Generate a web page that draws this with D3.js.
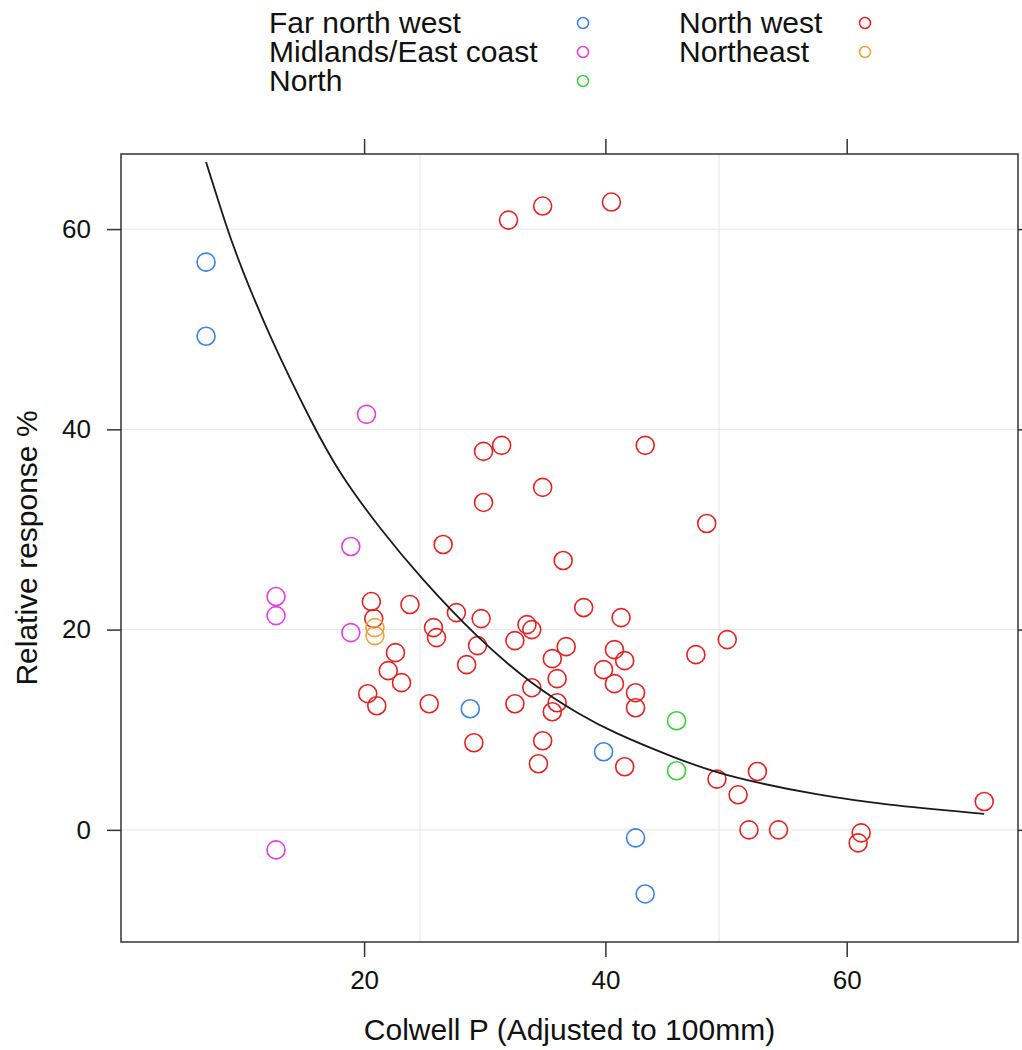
<!DOCTYPE html>
<html>
<head>
<meta charset="utf-8">
<script src="https://cdn.jsdelivr.net/npm/d3@7"></script>
<style>
  body { margin: 0; background: #fff; }
  text { font-family: "Liberation Sans", Arial, sans-serif; fill: #111; }
</style>
</head>
<body>
<div id="chart"></div>
<script>
var width = 1022;
var height = 1050;

// regions, in legend / drawing order
var regions = ["Far north west", "Midlands/East coast", "North", "North west", "Northeast"];
var regionColors = ["#3a80e2", "#e23ee2", "#3ccf3c", "#e42222", "#f0a23a"];

// Colwell P and relative response, per region
var farNorthWestP = [6.9, 6.9, 28.8, 39.85, 42.5, 43.3];
var farNorthWestR = [56.7, 49.3, 12.1, 7.8, -0.8, -6.4];

var midlandsP = [20.2, 18.9, 12.7, 12.7, 18.9, 12.7];
var midlandsR = [41.5, 28.3, 23.3, 21.4, 19.7, -2.0];

var northP = [45.9, 45.9];
var northR = [10.9, 5.9];

var northWestP = [31.97, 34.8, 40.5, 29.9, 31.4, 43.3, 34.8, 29.9, 48.4, 26.55,
	36.5, 20.6, 20.8, 23.8, 22.6, 22.0, 23.1, 20.3, 21.05, 25.75,
	26.0, 25.4, 27.65, 29.7, 29.4, 28.5, 29.1, 32.5, 33.5, 33.9,
	32.5, 33.9, 34.8, 34.45, 35.6, 36.75, 36.0, 36.0, 35.6, 38.2,
	41.3, 40.75, 41.6, 39.85, 40.75, 42.5, 42.5, 41.6, 47.5, 50.1,
	49.25, 52.6, 51.0, 71.4, 51.9, 54.35, 61.2, 60.95];
var northWestR = [60.9, 62.3, 62.7, 37.8, 38.4, 38.4, 34.2, 32.7, 30.6, 28.5,
	26.9, 22.8, 21.1, 22.5, 17.7, 15.9, 14.7, 13.6, 12.4, 20.2,
	19.2, 12.6, 21.7, 21.1, 18.4, 16.5, 8.7, 18.9, 20.5, 20.0,
	12.6, 14.2, 8.9, 6.6, 17.1, 18.3, 15.1, 12.7, 11.8, 22.2,
	21.2, 18.0, 16.9, 16.0, 14.6, 13.7, 12.2, 6.3, 17.5, 19.0,
	5.07, 5.83, 3.5, 2.83, 0.0, 0.0, -0.3, -1.3];

var northeastP = [20.9, 20.9];
var northeastR = [20.2, 19.4];

// fitted curve
var curveP = [6.9, 8.6, 9.6, 12.1, 15.75, 18.0, 21.3, 24.8, 29.35, 34.0, 37.9, 40.5, 45.9, 49.25, 52.6, 57.5, 63.1, 71.4];
var curveR = [66.7, 60.2, 56.8, 49.4, 40.4, 35.5, 30.1, 25.0, 19.2, 14.4, 11.5, 9.8, 7.1, 5.7, 4.7, 3.5, 2.5, 1.6];

var xTicks = [20, 40, 60];
var yTicks = [0, 20, 40, 60];

var groupsP = [farNorthWestP, midlandsP, northP, northWestP, northeastP];
var groupsR = [farNorthWestR, midlandsR, northR, northWestR, northeastR];

var points = [];
groupsP.forEach(function(ps, g){
	ps.forEach(function(p, i){
		points.push({region: g, p: p, r: groupsR[g][i]});
	});
});
var curveData = curveP.map(function(p, i){ return {p: p, r: curveR[i]}; });

var svg = d3.select("#chart")
	.append("svg")
	.attr("width", width)
	.attr("height", height);

svg.append("rect").attr("width", width).attr("height", height).attr("fill", "#fff");

var x = d3.scaleLinear().domain([-0.15, 74.2]).range([121, 1018]);
var y = d3.scaleLinear().domain([-11.2, 67.5]).range([942, 154]);

var x0 = x.range()[0], x1 = x.range()[1];
var y0 = y.range()[1], y1 = y.range()[0];

// grid: horizontal at the y ticks, two vertical lines splitting the panel in thirds
var grid = svg.append("g").attr("stroke", "#e6e6e6").attr("stroke-width", 1);
grid.selectAll(".h")
	.data(yTicks)
	.enter()
	.append("line")
	.attr("x1", x0).attr("x2", x1)
	.attr("y1", function(d){ return y(d); })
	.attr("y2", function(d){ return y(d); });
grid.selectAll(".v")
	.data([1, 2])
	.enter()
	.append("line")
	.attr("y1", y0).attr("y2", y1)
	.attr("x1", function(k){ return x0 + (x1 - x0) * k / 3; })
	.attr("x2", function(k){ return x0 + (x1 - x0) * k / 3; });

// axes (ticks on all sides, labels bottom and left)
function styleAxis(g){
	g.select(".domain").remove();
	g.selectAll(".tick line").attr("stroke", "#333").attr("stroke-width", 1.5);
	g.selectAll(".tick text").attr("font-size", 26).attr("fill", "#111")
		.style("font-family", '"Liberation Sans", Arial, sans-serif');
}

svg.append("g")
	.attr("transform", "translate(0," + y1 + ")")
	.call(d3.axisBottom(x).tickValues(xTicks).tickFormat(d3.format("d")).tickSize(15).tickPadding(14))
	.call(styleAxis);
svg.append("g")
	.attr("transform", "translate(0," + y0 + ")")
	.call(d3.axisTop(x).tickValues(xTicks).tickFormat("").tickSize(15))
	.call(styleAxis);
svg.append("g")
	.attr("transform", "translate(" + x0 + ",0)")
	.call(d3.axisLeft(y).tickValues(yTicks).tickFormat(d3.format("d")).tickSize(14).tickPadding(16))
	.call(styleAxis);
svg.append("g")
	.attr("transform", "translate(" + x1 + ",0)")
	.call(d3.axisRight(y).tickValues(yTicks).tickFormat("").tickSize(14))
	.call(styleAxis);

// points
svg.append("g")
	.selectAll("circle")
	.data(points)
	.enter()
	.append("circle")
	.attr("cx", function(d){ return x(d.p); })
	.attr("cy", function(d){ return y(d.r); })
	.attr("r", 9)
	.attr("fill", "none")
	.attr("stroke-width", 1.6)
	.attr("stroke", function(d){ return regionColors[d.region]; });

// curve
var line = d3.line()
	.x(function(d){ return x(d.p); })
	.y(function(d){ return y(d.r); })
	.curve(d3.curveBasis);

svg.append("path")
	.datum(curveData)
	.attr("d", line)
	.attr("fill", "none")
	.attr("stroke", "#1a1a1a")
	.attr("stroke-width", 1.8);

// panel frame
svg.append("rect")
	.attr("x", x0).attr("y", y0)
	.attr("width", x1 - x0).attr("height", y1 - y0)
	.attr("fill", "none")
	.attr("stroke", "#333")
	.attr("stroke-width", 1.5);

// axis titles
svg.append("text")
	.attr("x", (x0 + x1) / 2)
	.attr("y", 1040)
	.attr("text-anchor", "middle")
	.attr("font-size", 30)
	.text("Colwell P (Adjusted to 100mm)");

svg.append("text")
	.attr("transform", "translate(37," + (y0 + y1) / 2 + ") rotate(-90)")
	.attr("text-anchor", "middle")
	.attr("font-size", 30)
	.text("Relative response %");

// legend: two columns, three rows
var legend = svg.append("g")
	.selectAll(".key")
	.data(regions)
	.enter()
	.append("g")
	.attr("class", "key")
	.attr("transform", function(d, i){
		var col = i < 3 ? 0 : 1;
		var row = i % 3;
		return "translate(" + (col === 0 ? 269 : 679) + "," + (33 + row * 29) + ")";
	});

legend.append("text")
	.attr("font-size", 30)
	.text(function(d){ return d; });

legend.append("circle")
	.attr("cx", function(d, i){ return i < 3 ? 314 : 186; })
	.attr("cy", -10)
	.attr("r", 5.5)
	.attr("fill", "none")
	.attr("stroke-width", 1.5)
	.attr("stroke", function(d, i){ return regionColors[i]; });
</script>
</body>
</html>
